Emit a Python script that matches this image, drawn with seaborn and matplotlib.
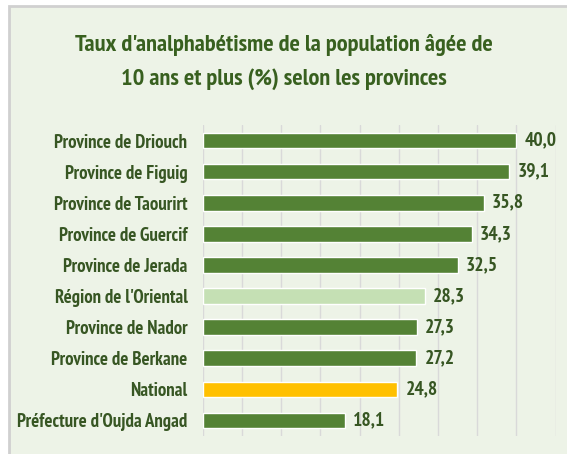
import pandas as pd
import matplotlib.pyplot as plt
import seaborn as sns
from matplotlib.patches import Rectangle

# data
provinces = ["Province de Driouch", "Province de Figuig", "Province de Taourirt",
             "Province de Guercif", "Province de Jerada", "Région de l'Oriental",
             "Province de Nador", "Province de Berkane", "National",
             "Préfecture d'Oujda Angad"]
taux = [40.0, 39.1, 35.8, 34.3, 32.5, 28.3, 27.3, 27.2, 24.8, 18.1]
colors = ["#548235"] * 5 + ["#C5E0B4"] + ["#548235"] * 2 + ["#FFC000"] + ["#548235"]

df = pd.DataFrame({"zone": provinces, "taux": taux})

sns.set_style("white")
plt.rcParams["font.family"] = ["PT Sans Narrow", "DejaVu Sans"]

bg = "#EDF3E7"
txt = "#375623"

fig = plt.figure(figsize=(5.67, 4.54), dpi=100)
fig.patch.set_facecolor("white")
# light green chart area with grey frame
frame = Rectangle((8.5 / 567, -0.1), 1.2, 1.1 - 6.5 / 454,
                  transform=fig.transFigure, facecolor=bg,
                  edgecolor="#D0D0D0", linewidth=2, zorder=-10)
fig.patches.append(frame)

ax = fig.add_axes([202.7 / 567, 1 - 436 / 454, (555.7 - 202.7) / 567, 311 / 454])
ax.patch.set_alpha(0)

sns.barplot(data=df, x="taux", y="zone", hue="zone", palette=colors,
            orient="h", width=0.5, saturation=1, legend=False, ax=ax, zorder=3)

ax.set_xlim(0, 45)
ax.set_ylim(9.5, -0.5)
ax.set_xticks(range(0, 46, 5))
ax.xaxis.grid(True, color="#D9D9D9", linewidth=1)
ax.set_axisbelow(True)
ax.tick_params(axis="x", length=0, labelbottom=False)
ax.tick_params(axis="y", length=0, pad=11)
for s in ax.spines.values():
    s.set_visible(False)
ax.set_xlabel("")
ax.set_ylabel("")
for lab in ax.get_yticklabels():
    lab.set_fontsize(13.5)
    lab.set_fontweight("bold")
    lab.set_color(txt)

for i, v in enumerate(taux):
    ax.annotate(f"{v:.1f}".replace(".", ","), (v, i), xytext=(6, 0),
                textcoords="offset points", va="center", ha="left",
                fontsize=14, fontweight="bold", color=txt)

fig.text(0.5, 1 - 45 / 454, "Taux d'analphabétisme de la population âgée de",
         ha="center", va="center", fontsize=17.6, fontweight="bold", color="#38601F")
fig.text(0.5, 1 - 79 / 454, "10 ans et plus (%) selon les provinces",
         ha="center", va="center", fontsize=17.6, fontweight="bold", color="#38601F")

fig.savefig("out.png", dpi=100, facecolor=fig.get_facecolor())
